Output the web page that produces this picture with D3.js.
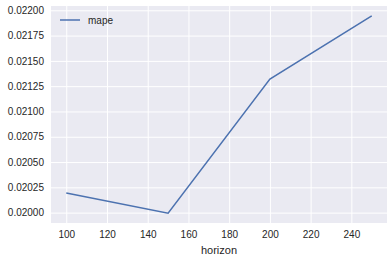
<!DOCTYPE html>
<html>
<head>
<meta charset="utf-8">
<script src="https://cdn.jsdelivr.net/npm/d3@7"></script>
<style>
  body { margin: 0; background: #fff; }
  text { font-family: "Liberation Sans", Arial, sans-serif; fill: #262626; }
</style>
</head>
<body>
<div id="chart"></div>
<script>
// mape by horizon
var horizon = [100, 150, 200, 250];
var mape = [0.020194, 0.019995, 0.021320, 0.021945];
var x_ticks = [100, 120, 140, 160, 180, 200, 220, 240];
var y_ticks = [0.02000, 0.02025, 0.02050, 0.02075, 0.02100, 0.02125, 0.02150, 0.02175, 0.02200];
var series_name = "mape";

var width = 392, height = 262;
var margin = {left: 51, right: 5, top: 6, bottom: 39};

var svg = d3.select("#chart").append("svg")
	.attr("width", width)
	.attr("height", height);

// matplotlib style 5% margins
var x_ext = d3.extent(horizon), y_ext = d3.extent(mape);
var x_pad = (x_ext[1] - x_ext[0]) * 0.05;
var y_pad = (y_ext[1] - y_ext[0]) * 0.05;

var x = d3.scaleLinear()
	.domain([x_ext[0] - x_pad, x_ext[1] + x_pad])
	.range([margin.left, width - margin.right]);

var y = d3.scaleLinear()
	.domain([y_ext[0] - y_pad, y_ext[1] + y_pad])
	.range([height - margin.bottom, margin.top]);

svg.append("rect")
	.attr("x", margin.left)
	.attr("y", margin.top)
	.attr("width", width - margin.left - margin.right)
	.attr("height", height - margin.top - margin.bottom)
	.attr("fill", "#EAEAF2");

var x_axis = svg.append("g")
	.attr("transform", "translate(0," + (height - margin.bottom) + ")")
	.call(d3.axisBottom(x).tickValues(x_ticks).tickSize(-(height - margin.top - margin.bottom)).tickPadding(8));

var y_axis = svg.append("g")
	.attr("transform", "translate(" + margin.left + ",0)")
	.call(d3.axisLeft(y).tickValues(y_ticks).tickFormat(d3.format(".5f")).tickSize(-(width - margin.left - margin.right)).tickPadding(8));

[x_axis, y_axis].forEach(function(g) {
	g.select(".domain").remove();
	g.selectAll(".tick line").attr("stroke", "#fff").attr("stroke-width", 1);
	g.selectAll(".tick text").attr("font-size", 10).style("fill", "#262626");
});
y_axis.selectAll(".tick text").attr("x", -7);

var line = d3.line()
	.x(function(d, i) { return x(horizon[i]); })
	.y(function(d) { return y(d); });

svg.append("path")
	.datum(mape)
	.attr("d", line)
	.attr("fill", "none")
	.attr("stroke", "#4C72B0")
	.attr("stroke-width", 1.5);

svg.append("text")
	.attr("x", (margin.left + width - margin.right) / 2)
	.attr("y", 254)
	.attr("text-anchor", "middle")
	.attr("font-size", 11)
	.text("horizon");

// legend
var legend = svg.append("g");
legend.append("line")
	.attr("x1", 60).attr("x2", 80)
	.attr("y1", 20).attr("y2", 20)
	.attr("stroke", "#4C72B0")
	.attr("stroke-width", 1.5);
legend.append("text")
	.attr("x", 88)
	.attr("y", 23.5)
	.attr("font-size", 10)
	.text(series_name);
</script>
</body>
</html>
